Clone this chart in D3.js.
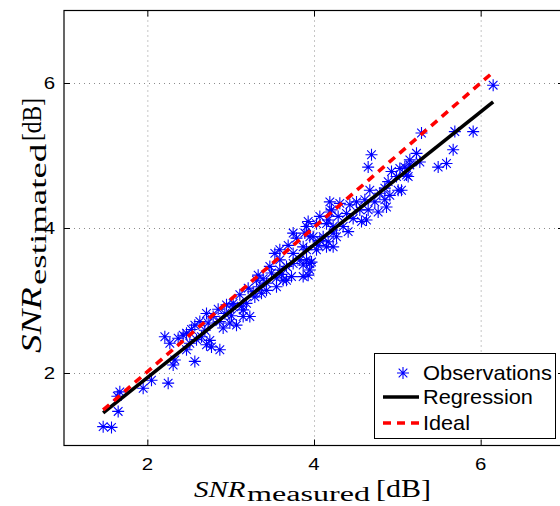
<!DOCTYPE html>
<html><head><meta charset="utf-8">
<script src="https://cdn.jsdelivr.net/npm/d3@7"></script>
<style>body{margin:0;background:#fff;} svg{display:block;}</style>
</head><body>
<svg id="c" width="560" height="506"></svg>
<script>
// ---- data ----
const obsX=[1.47,1.57,1.65,1.67,1.64,1.95,2.05,2.25,2.21,2.27,2.31,2.33,2.37,2.43,2.47,2.51,2.57,2.57,2.59,2.65,
2.69,2.71,2.77,2.73,2.79,2.87,2.93,2.95,2.99,3.07,3.11,3.15,3.19,2.71,3.23,3.15,3.03,3.29,3.21,3.35,
3.33,3.43,3.47,3.53,3.55,3.59,3.63,3.67,3.69,3.73,3.75,3.79,3.83,3.87,3.91,3.93,3.95,3.95,4.03,4.05,
4.11,4.15,4.17,4.21,4.23,4.29,4.31,4.39,4.69,4.65,5.23,5.27,5.49,5.29,5.15,5.11,5.03,4.99,4.93,4.89,
4.85,4.67,4.79,4.91,5.01,4.85,4.73,4.61,4.19,4.43,4.51,4.55,4.65,4.77,4.19,4.47,4.57,4.63,3.93,4.07,
4.15,4.23,4.35,4.41,3.89,3.99,4.07,4.17,4.23,4.27,3.91,4.03,3.97,3.87,6.15,5.69,5.91,5.67,5.15,5.09,
5.13,5.59,5.05,2.47,2.63,2.75,2.87,3.03,3.31,3.43,3.55,3.59,3.67,3.75,3.87,3.95,3.91,3.75,3.59,4.87,
2.85,3.01,3.13,3.27,3.39,3.49,3.61,2.53,2.91,3.37];
const obsY=[1.26,1.25,1.47,1.74,1.68,1.79,1.90,1.86,2.50,2.41,2.11,2.18,2.48,2.52,2.32,2.41,2.16,2.66,2.46,2.50,
2.59,2.39,2.36,2.69,2.78,2.71,2.82,2.94,2.69,2.66,3.08,2.78,2.96,2.82,2.78,2.87,2.96,3.05,3.17,3.19,
3.35,3.24,3.47,3.65,3.31,3.56,3.28,3.47,3.76,3.33,3.65,3.86,3.56,3.74,4.02,3.35,3.51,3.88,4.06,3.76,
3.88,3.74,4.11,4.25,3.93,4.16,4.34,4.20,5.01,4.84,5.03,4.91,4.84,5.31,4.87,4.73,4.82,4.71,4.78,4.64,
4.55,4.52,4.48,4.45,4.52,4.39,4.36,4.39,4.36,4.32,4.36,4.25,4.25,4.22,4.22,4.13,4.09,4.11,4.09,4.16,
4.06,4.02,4.02,3.95,3.93,3.88,3.83,3.81,3.74,3.88,3.70,3.70,3.53,3.49,5.97,5.33,5.33,5.08,4.94,4.84,
4.71,4.89,4.52,2.55,2.71,2.45,2.32,2.91,3.28,3.14,3.19,3.42,3.28,3.51,3.33,3.42,3.56,3.93,3.70,4.29,
2.88,2.79,2.92,3.12,3.30,3.38,3.36,2.60,2.62,3.10];
const regX=[1.47,6.15], regY=[1.45,5.74];
const idealX=[1.47,6.12], idealY=[1.49,6.12];
const xTicks=[2,4,6], yTicks=[2,4,6];
const xDomain=[1,7], yDomain=[1,7];
const legendLabels=["Observations","Regression","Ideal"];
const xTitle=["SNR","measured","[dB]"], yTitle=["SNR","estimated","[dB]"];

// ---- chart ----
const svg=d3.select("#c");
const x=d3.scaleLinear().domain(xDomain).range([64,564]);
const y=d3.scaleLinear().domain(yDomain).range([445.5,10.5]);
const [X0,X1]=x.range(), [Y0,Y1]=y.range();

// grid
const grid=svg.append("g").attr("stroke","#8c8c8c").attr("stroke-width",1).attr("stroke-dasharray","1,4");
grid.selectAll(".gx").data(xTicks).join("line").attr("x1",d=>x(d)+0.5).attr("x2",d=>x(d)+0.5).attr("y1",Y1).attr("y2",Y0);
grid.selectAll(".gy").data(yTicks).join("line").attr("y1",d=>Math.round(y(d))+0.5).attr("y2",d=>Math.round(y(d))+0.5).attr("x1",X0).attr("x2",X1);

// ticks (inward)
const noDomain=g=>g.select(".domain").remove();
svg.append("g").attr("transform",`translate(0,${Y0})`).call(d3.axisBottom(x).tickValues(xTicks).tickSize(-6).tickFormat("")).call(noDomain);
svg.append("g").attr("transform",`translate(0,${Y1})`).call(d3.axisTop(x).tickValues(xTicks).tickSize(-6).tickFormat("")).call(noDomain);
svg.append("g").attr("transform",`translate(${X0},0)`).call(d3.axisLeft(y).tickValues(yTicks).tickSize(-6).tickFormat("")).call(noDomain);
svg.append("g").attr("transform",`translate(${X1},0)`).call(d3.axisRight(y).tickValues(yTicks).tickSize(-6).tickFormat("")).call(noDomain);
svg.selectAll(".tick line").attr("stroke","#000");

// observations
const asterisk={draw(ctx,size){const r=Math.sqrt(size)/2,d=r*0.72;
 ctx.moveTo(-r,0);ctx.lineTo(r,0);ctx.moveTo(0,-r);ctx.lineTo(0,r);
 ctx.moveTo(-d,-d);ctx.lineTo(d,d);ctx.moveTo(-d,d);ctx.lineTo(d,-d);}};
const star=d3.symbol().type(asterisk).size(144);
const obs=d3.zip(obsX,obsY);
svg.append("g").selectAll("path").data(obs).join("path")
 .attr("transform",d=>`translate(${x(d[0])},${y(d[1])})`).attr("d",star)
 .attr("fill","none").attr("stroke","#0000ff").attr("stroke-width",1.1);

// lines
const line=d3.line().x(d=>x(d[0])).y(d=>y(d[1]));
svg.append("path").attr("d",line(d3.zip(regX,regY))).attr("stroke","#000").attr("stroke-width",3.6).attr("fill","none");
svg.append("path").attr("d",line(d3.zip(idealX,idealY))).attr("stroke","#ff0000").attr("stroke-width",3.6).attr("fill","none").attr("stroke-dasharray","8,6");

// axes box
svg.append("rect").attr("x",X0).attr("y",Y1).attr("width",X1-X0).attr("height",Y0-Y1).attr("fill","none").attr("stroke","#000").attr("stroke-width",1.2);

// tick labels
const SANS="Liberation Sans, Arial, Helvetica, sans-serif";
svg.append("g").selectAll("text").data(xTicks).join("text")
 .attr("transform",d=>`translate(${x(d)},470) scale(1.2,1)`).attr("text-anchor","middle")
 .attr("font-family",SANS).attr("font-size",17).text(d=>d);
svg.append("g").selectAll("text").data(yTicks).join("text")
 .attr("transform",d=>`translate(55,${y(d)+6}) scale(1.2,1)`).attr("text-anchor","end")
 .attr("font-family",SANS).attr("font-size",17).text(d=>d);

// axis titles: each piece placed and stretched to its measured extent
const SERIF="Liberation Serif, Times New Roman, serif";
function piece(parent,txt,opt){
 const t=parent.append("text").attr("font-family",SERIF).attr("font-size",opt.size)
  .attr("font-style",opt.italic?"italic":"normal").text(txt);
 const w=t.node().getBBox().width;
 t.attr("transform",`translate(${opt.start},${opt.base}) scale(${opt.len/w},1)`);
}
const xg=svg.append("g");
piece(xg,xTitle[0],{size:24,italic:true,start:194,base:497,len:52});
piece(xg,xTitle[1],{size:20,start:247,base:501,len:123});
piece(xg,xTitle[2],{size:25,start:376,base:497,len:55});
const yg=svg.append("g").attr("transform","translate(41,353) rotate(-90)");
piece(yg,yTitle[0],{size:30,italic:true,start:0,base:0,len:66});
piece(yg,yTitle[1],{size:23,start:68,base:5,len:142});
piece(yg,yTitle[2],{size:28,start:212,base:0,len:43});

// legend
const lg=svg.append("g");
lg.append("rect").attr("x",374.5).attr("y",353.5).attr("width",181).attr("height",85).attr("fill","#fff").attr("stroke","#000").attr("stroke-width",1);
const rows=[373,397,423], widths=[129,110,47];
legendLabels.forEach((lab,i)=>{
 const t=lg.append("text").attr("font-family",SANS).attr("font-size",20).text(lab);
 const w=t.node().getBBox().width;
 t.attr("transform",`translate(423,${rows[i]+7}) scale(${widths[i]/w},1)`);
});
lg.append("path").attr("transform",`translate(403,${rows[0]})`).attr("d",star).attr("fill","none").attr("stroke","#0000ff").attr("stroke-width",1.1);
lg.append("line").attr("x1",383).attr("x2",419).attr("y1",rows[1]).attr("y2",rows[1]).attr("stroke","#000").attr("stroke-width",3.6);
lg.append("line").attr("x1",383).attr("x2",419).attr("y1",rows[2]).attr("y2",rows[2]).attr("stroke","#ff0000").attr("stroke-width",3.6).attr("stroke-dasharray","8,6");
</script>
</body></html>
